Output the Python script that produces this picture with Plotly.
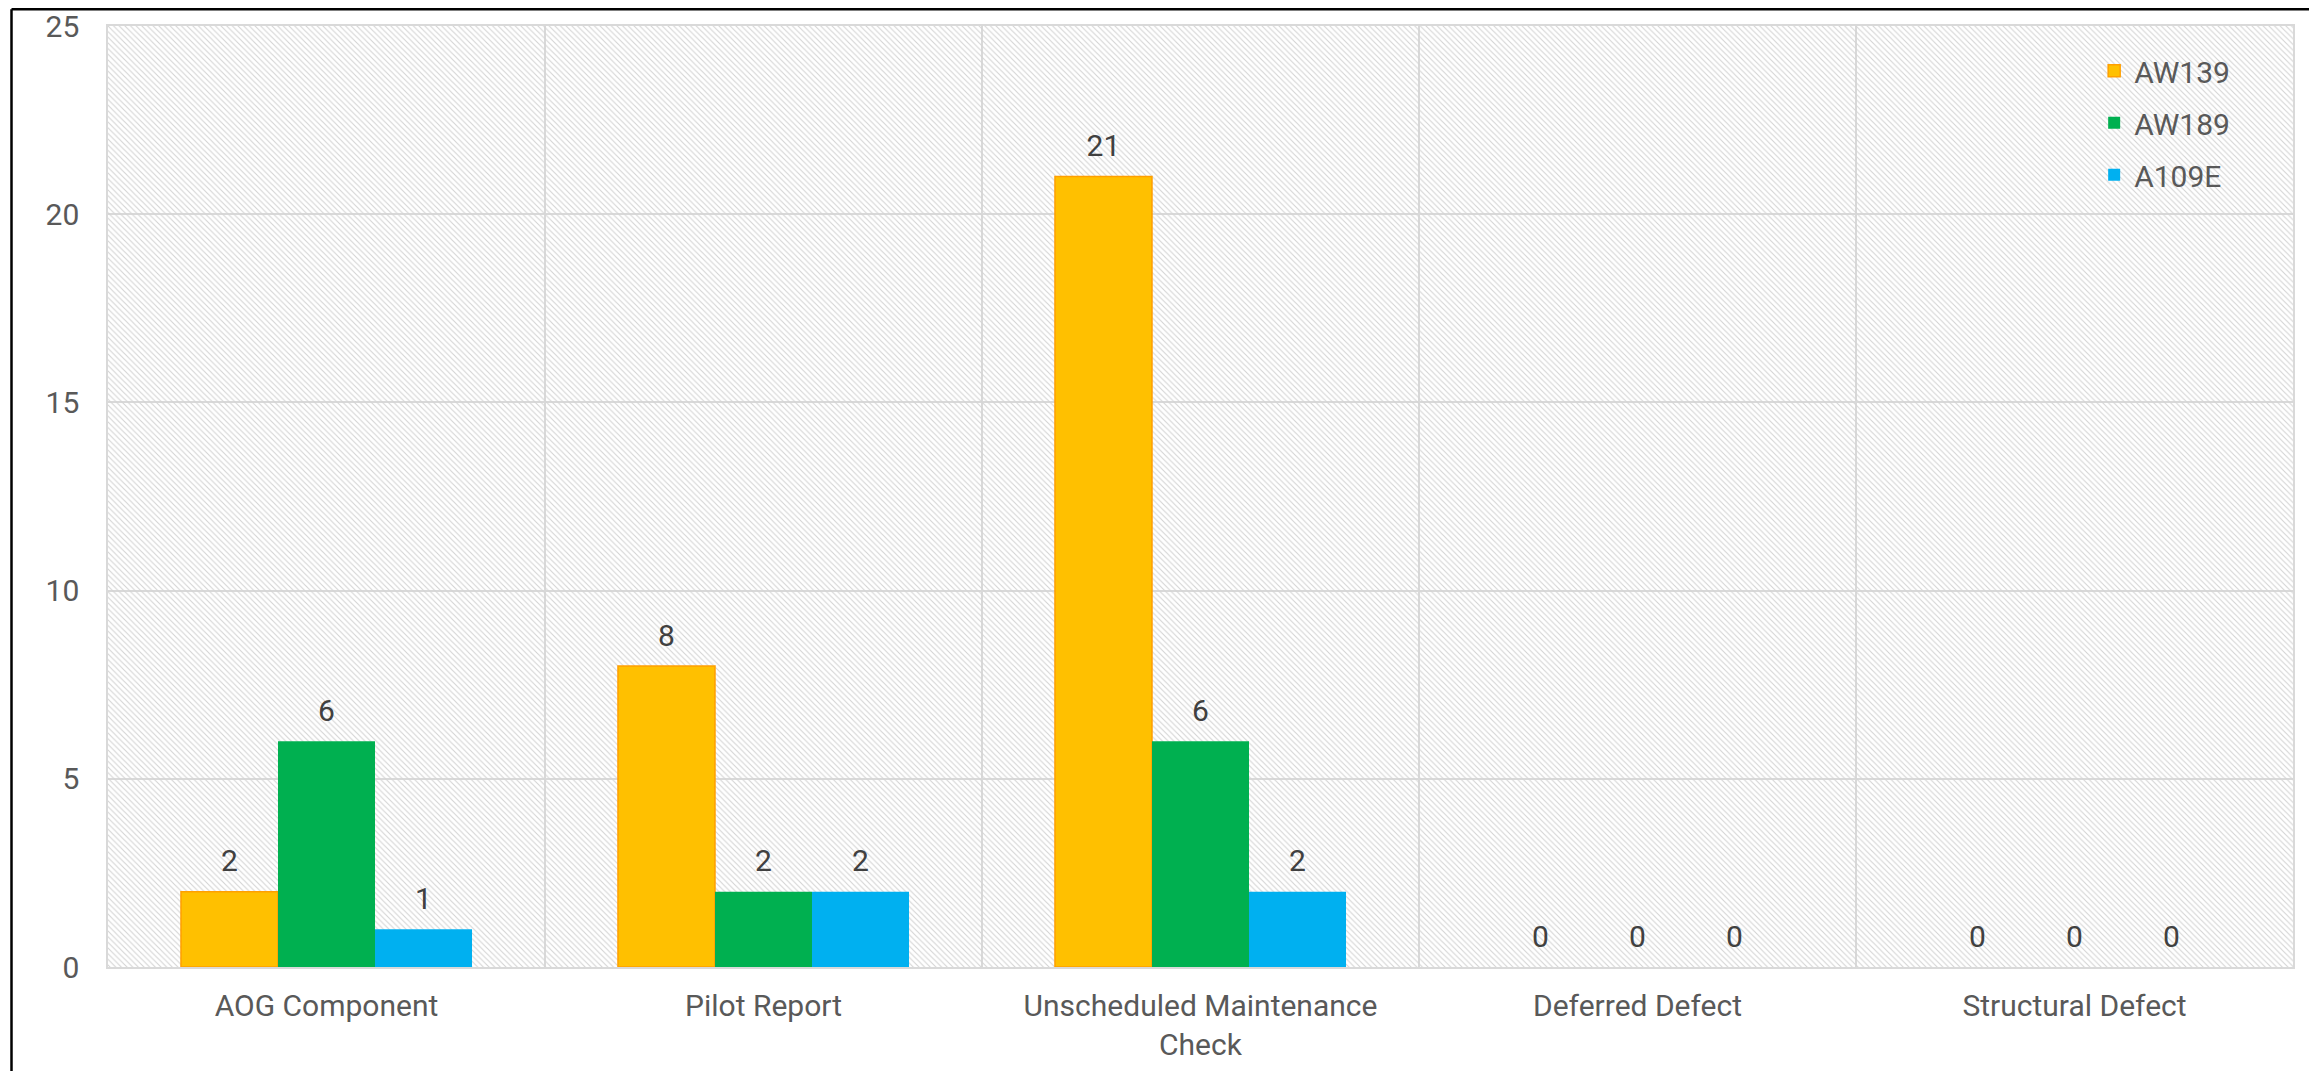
import plotly.graph_objects as go

categories = ["AOG Component", "Pilot Report", "Unscheduled Maintenance<br>Check",
              "Deferred Defect", "Structural Defect"]
series_names = ["AW139", "AW189", "A109E"]
aw139 = [2, 8, 21, 0, 0]
aw189 = [6, 2, 6, 0, 0]
a109e = [1, 2, 2, 0, 0]
y_max = 25
y_ticks = [0, 5, 10, 15, 20, 25]

fills = ["#FFC000", "#00B050", "#00B0F0"]
lines = ["#FF9F00", "#00B050", "#00B0F0"]
line_w = [1.5, 0, 0]

# the page body adds an 8px margin, so the figure is sized to fit inside it
W, H = 2301, 1063
L, R, T, B = 100, 16, 18, 104
PW, PH = W - L - R, H - T - B
FONT = "Roboto, Liberation Sans, sans-serif"

fig = go.Figure()

# hatched plot-area background on a hidden base x axis
fig.add_trace(go.Bar(
    x=[0.5], y=[y_max], width=[1], xaxis="x", yaxis="y",
    marker=dict(color="rgba(0,0,0,0)", line=dict(width=0),
                pattern=dict(shape="\\", size=4, solidity=0.28,
                             fgcolor="#d4d4d4", bgcolor="rgba(0,0,0,0)",
                             fillmode="replace")),
    showlegend=False, hoverinfo="skip",
))

all_vals = [aw139, aw189, a109e]
for i, (name, vals) in enumerate(zip(series_names, all_vals)):
    fig.add_trace(go.Bar(
        name=name, x=categories, y=vals, xaxis="x2", yaxis="y",
        offsetgroup=name, alignmentgroup="g",
        marker=dict(color=fills[i],
                    line=dict(color=lines[i],
                              width=[line_w[i] if v > 0 else 0 for v in vals])),
        legendgroup=name,
    ))

# value labels, aligned with the grouped bars
for i, (name, vals) in enumerate(zip(series_names, all_vals)):
    fig.add_trace(go.Scatter(
        x=categories, y=vals, xaxis="x2", yaxis="y",
        offsetgroup=name, alignmentgroup="g",
        mode="markers+text", text=[str(v) for v in vals],
        textposition="top center",
        marker=dict(size=19, opacity=0),
        textfont=dict(family=FONT, size=30, color="#404040"),
        cliponaxis=False, showlegend=False, hoverinfo="skip",
    ))

# outer frame (top and left edges visible)
fx = (3.5 - L) / PW
fy = (H - B - 1.2) / PH
fig.add_shape(type="line", xref="paper", yref="paper",
              x0=fx, x1=1.1, y0=fy, y1=fy,
              line=dict(color="black", width=2.5))
fig.add_shape(type="line", xref="paper", yref="paper",
              x0=fx, x1=fx, y0=fy, y1=-0.2,
              line=dict(color="black", width=2.5))

fig.update_layout(
    width=W, height=H,
    margin=dict(l=L, r=R, t=T, b=B, autoexpand=False),
    paper_bgcolor="white", plot_bgcolor="white",
    barmode="group", bargap=0.334, bargroupgap=0,
    scattermode="group", scattergap=0.334,
    font=dict(family=FONT, size=30, color="#595959"),
    xaxis=dict(range=[0, 1], visible=False, showgrid=False, fixedrange=True,
               automargin=False),
    xaxis2=dict(overlaying="x", side="bottom", type="category", automargin=False,
                tickson="boundaries", showgrid=True, gridcolor="#d9d9d9", gridwidth=1.5,
                showline=True, mirror=True, linecolor="#d9d9d9", linewidth=1.5,
                ticks="", ticklabelstandoff=11,
                tickfont=dict(family=FONT, size=30, color="#595959")),
    yaxis=dict(range=[0, y_max], tickvals=y_ticks, showgrid=True, gridcolor="#d9d9d9",
               automargin=False,
               gridwidth=1.5, zeroline=False, showline=True, mirror=True,
               linecolor="#d9d9d9", linewidth=1.5, ticks="", ticklabelstandoff=21,
               tickfont=dict(family=FONT, size=30, color="#595959")),
    legend=dict(x=0.909, y=0.98, xanchor="left", yanchor="top",
                bgcolor="rgba(0,0,0,0)", tracegroupgap=10,
                font=dict(family=FONT, size=30, color="#595959")),
    showlegend=True,
)

fig.write_html("out.html")
